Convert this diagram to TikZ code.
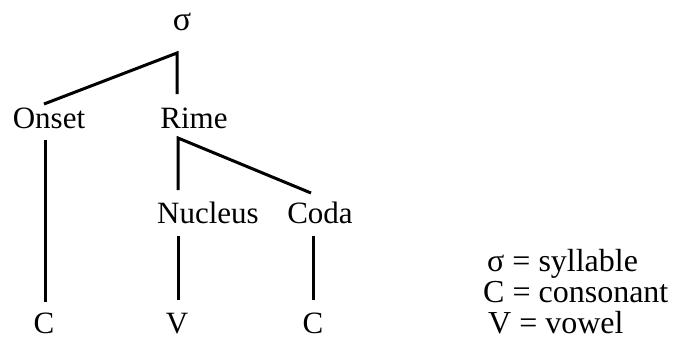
\documentclass[tikz,border=0pt]{standalone}
\usepackage{fontspec}
\setmainfont{Liberation Serif}
\begin{document}
\begin{tikzpicture}[x=1pt,y=-1pt,
  lbl/.style={inner sep=0pt,anchor=base,font=\fontsize{31}{36}\selectfont},
  leg/.style={inner sep=0pt,anchor=base west,font=\fontsize{32}{36}\selectfont},
  edge/.style={line width=3pt}]
\useasboundingbox (0,0) rectangle (675,341);
\node[lbl,font=\fontsize{34}{36}\selectfont] (sigma) at (182,30) {σ};
\coordinate (top) at (177,53);
\node[lbl] (onset) at (49,128) {Onset};
\node[lbl] (rime) at (194,128) {Rime};
\node[lbl] (nucleus) at (208,223) {Nucleus};
\node[lbl] (coda) at (320,223) {Coda};
\node[lbl] (c1) at (44,333) {C};
\node[lbl] (v) at (177,333) {V};
\node[lbl] (c2) at (313,333) {C};
\coordinate (onsettop) at (44,104);
\coordinate (rimetop) at (177,94);
\coordinate (rimebot) at (178,138);
\coordinate (nuctop) at (178,190);
\coordinate (codatop) at (311,193);
\coordinate (onsetbot) at (45,140);
\coordinate (c1top) at (45,302);
\coordinate (nucbot) at (178,236);
\coordinate (vtop) at (178,300);
\coordinate (codabot) at (313,236);
\coordinate (c2top) at (313,300);
\draw[edge] (onsettop) -- (top) -- (rimetop);
\draw[edge] (codatop) -- (rimebot) -- (nuctop);
\draw[edge] (onsetbot) -- (c1top);
\draw[edge] (nucbot) -- (vtop);
\draw[edge] (codabot) -- (c2top);
\node[leg] (l1) at (487,271) {σ = syllable};
\node[leg] (l2) at (483,302) {C = consonant};
\node[leg] (l3) at (488,333) {V = vowel};
\end{tikzpicture}
\end{document}
